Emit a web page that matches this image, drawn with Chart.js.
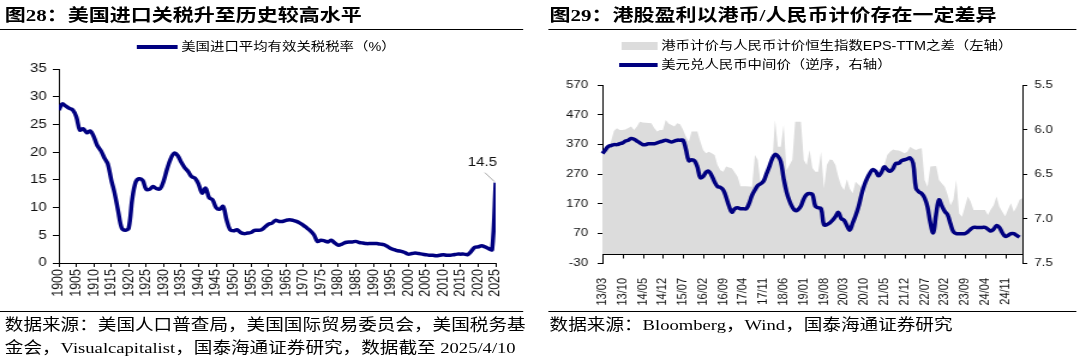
<!DOCTYPE html>
<html>
<head>
<meta charset="utf-8">
<script src="https://cdn.jsdelivr.net/npm/chart.js@4.4.0/dist/chart.umd.min.js"></script>
<style>
html, body { margin: 0; padding: 0; background: #fff; overflow: hidden; }
#page { position: absolute; left: 0; top: 0; width: 900px; height: 362px; transform: scaleX(1.2); transform-origin: 0 0; color: #000; }
.title { position: absolute; top: 5px; font: bold 17.5px/20px "Liberation Serif", "Noto Sans CJK SC", serif; white-space: nowrap; }
.rule { position: absolute; height: 0; border-top: 1.5px solid #000; }
.src { position: absolute; top: 313px; font: 15.5px/23px "Liberation Serif", "Noto Sans CJK SC", serif; white-space: nowrap; }
.leg { position: absolute; height: 14px; font: 12px/14px "Liberation Sans", "Noto Sans CJK SC", sans-serif; white-space: nowrap; display: flex; align-items: center; }
.leg i { display: inline-block; margin-right: 3px; }
.box { position: absolute; }
</style>
</head>
<body>
<div id="page">
  <div class="title" style="left:4px">图28：美国进口关税升至历史较高水平</div>
  <div class="rule" style="left:0;width:436px;top:29px"></div>
  <div class="leg" style="left:114px;top:40px"><i style="width:34px;height:4px;background:#000080"></i>美国进口平均有效关税税率（%）</div>
  <div class="box" style="left:0;top:55px;width:440px;height:255px"><canvas id="chart28"></canvas></div>
  <div class="rule" style="left:0;width:436px;top:311px"></div>
  <div class="src" style="left:4px">数据来源：美国人口普查局，美国国际贸易委员会，美国税务基<br>金会，Visualcapitalist，国泰海通证券研究，数据截至 2025/4/10</div>

  <div class="title" style="left:458px">图29：港股盈利以港币/人民币计价存在一定差异</div>
  <div class="rule" style="left:457px;width:440px;top:29px"></div>
  <div class="leg" style="left:518px;top:39px"><i style="width:30px;height:8px;background:#dcdcdc"></i>港币计价与人民币计价恒生指数EPS-TTM之差（左轴）</div>
  <div class="leg" style="left:516px;top:58px"><i style="width:32px;height:4px;background:#000080"></i>美元兑人民币中间价（逆序，右轴）</div>
  <div class="box" style="left:457px;top:70px;width:443px;height:240px"><canvas id="chart29"></canvas></div>
  <div class="rule" style="left:457px;width:440px;top:311px"></div>
  <div class="src" style="left:458px">数据来源：Bloomberg，Wind，国泰海通证券研究</div>
</div>

<script>
// ---- 图28 数据：美国进口平均有效关税税率（%），1900-2025
const tariffRate = [
  27.6, 28.7, 28.3, 27.9, 27.6, 26.4, 24.0, 24.2, 23.5, 23.8,
  22.8, 21.2, 20.3, 19.0, 17.9, 15.0, 12.5, 9.3, 6.3, 5.9,
  6.3, 11.5, 14.6, 15.2, 14.9, 13.3, 13.3, 13.8, 13.4, 13.4,
  14.8, 17.0, 18.8, 19.8, 19.4, 18.2, 17.2, 16.5, 15.6, 15.3,
  14.2, 12.6, 13.5, 11.8, 11.4, 10.0, 9.7, 10.2, 7.8, 6.0,
  5.8, 6.0, 5.5, 5.3, 5.4, 5.5, 5.9, 5.9, 6.0, 6.5,
  7.0, 7.2, 7.7, 7.5, 7.5, 7.7, 7.8, 7.7, 7.5, 7.2,
  6.8, 6.3, 5.8, 5.1, 3.9, 4.1, 4.0, 3.8, 4.1, 3.6,
  3.2, 3.4, 3.7, 3.8, 3.8, 3.9, 3.7, 3.6, 3.5, 3.5,
  3.5, 3.5, 3.4, 3.3, 3.0, 2.6, 2.4, 2.2, 2.1, 1.9,
  1.6, 1.7, 1.8, 1.7, 1.6, 1.5, 1.4, 1.4, 1.3, 1.4,
  1.5, 1.4, 1.4, 1.5, 1.6, 1.6, 1.6, 1.5, 2.1, 2.8,
  2.9, 3.1, 2.9, 2.6, 2.4, 14.5
];
const firstYear = 1900;
const years = [];
for (let i = 0; i < tariffRate.length; i++) years.push(firstYear + i);
const lastNote = '14.5';

// ---- 图29 数据：月度，2013/03 起
const epsGap = [
  345, 355, 362, 380, 415, 424, 418, 418, 420, 425,
  430, 418, 430, 446, 444, 443, 442, 441, 425, 413,
  418, 418, 452, 440, 435, 430, 441, 438, 420, 396,
  379, 413, 413, 413, 380, 351, 340, 345, 340, 334,
  300, 283, 278, 295, 292, 289, 275, 261, 229, 229,
  229, 228, 227, 334, 317, 238, 260, 272, 290, 300,
  452, 362, 362, 435, 283, 300, 317, 446, 446, 446,
  317, 300, 351, 290, 278, 278, 345, 222, 300, 319,
  317, 300, 261, 230, 216, 252, 220, 205, 244, 235,
  227, 188, 250, 265, 272, 272, 272, 290, 300, 334,
  345, 353, 350, 349, 345, 340, 345, 362, 355, 351,
  355, 357, 250, 227, 295, 296, 297, 250, 238, 227,
  200, 165, 183, 250, 137, 126, 160, 194, 177, 149,
  149, 149, 149, 149, 132, 150, 165, 194, 160, 143,
  128, 150, 171, 143, 160, 183, 188
];
const usdCny = [
  6.27, 6.23, 6.19, 6.18, 6.17, 6.17, 6.16, 6.15, 6.13, 6.12,
  6.10, 6.11, 6.13, 6.15, 6.17, 6.17, 6.16, 6.16, 6.16, 6.15,
  6.14, 6.13, 6.12, 6.13, 6.14, 6.13, 6.12, 6.12, 6.12, 6.22,
  6.35, 6.34, 6.35, 6.42, 6.54, 6.53, 6.48, 6.47, 6.52, 6.59,
  6.64, 6.65, 6.68, 6.76, 6.86, 6.93, 6.89, 6.88, 6.89, 6.89,
  6.89, 6.83, 6.74, 6.68, 6.63, 6.61, 6.58, 6.50, 6.42, 6.33,
  6.28, 6.30, 6.36, 6.55, 6.70, 6.80, 6.87, 6.91, 6.90, 6.86,
  6.78, 6.73, 6.72, 6.73, 6.86, 6.88, 6.89, 7.07, 7.07, 7.05,
  7.02, 6.98, 6.93, 7.00, 7.02, 7.08, 7.13, 7.05, 6.97, 6.87,
  6.74, 6.63, 6.55, 6.49, 6.45, 6.47, 6.52, 6.48, 6.42, 6.45,
  6.47, 6.44, 6.38, 6.38, 6.35, 6.34, 6.33, 6.32, 6.38, 6.66,
  6.70, 6.72, 6.77, 6.87, 7.05, 7.16, 6.95, 6.79, 6.86, 6.92,
  6.96, 7.06, 7.15, 7.17, 7.17, 7.17, 7.17, 7.15, 7.12, 7.10,
  7.10, 7.10, 7.10, 7.10, 7.12, 7.14, 7.12, 7.08, 7.10, 7.16,
  7.20, 7.19, 7.17, 7.17, 7.19, 7.21, null
];
const months = [];
for (let i = 0; i < epsGap.length; i++) {
  const m = 2 + i; // 2013/03 = index 0
  const yy = 13 + Math.floor(m / 12);
  const mm = (m % 12) + 1;
  months.push(yy + '/' + (mm < 10 ? '0' + mm : mm));
}
const monthTickStep = 7;

const NAVY = '#000080';
const GRAY = '#dcdcdc';
const tickFont28 = { family: '"Liberation Sans", Arial, sans-serif', size: 12.5 };
const tickFont29 = { family: '"Liberation Sans", Arial, sans-serif', size: 11 };

// 14.5 标注
const noteLast = {
  id: 'noteLast',
  afterDatasetsDraw(chart) {
    const { ctx, scales } = chart;
    const px = scales.x.getPixelForValue(years[years.length - 1]);
    const py = scales.y.getPixelForValue(tariffRate[tariffRate.length - 1]);
    ctx.save();
    ctx.strokeStyle = '#aaaaaa';
    ctx.lineWidth = 1;
    ctx.beginPath();
    ctx.moveTo(px - 1, py - 1);
    ctx.lineTo(px - 9, py - 10);
    ctx.stroke();
    ctx.fillStyle = '#111';
    ctx.font = '12.5px "Liberation Sans", Arial, sans-serif';
    ctx.textAlign = 'center';
    ctx.textBaseline = 'bottom';
    ctx.fillText(lastNote, px - 11, py - 14);
    ctx.restore();
  }
};

new Chart(document.getElementById('chart28'), {
  type: 'line',
  data: {
    datasets: [{
      label: '美国进口平均有效关税税率（%）',
      data: tariffRate.map((v, i) => ({ x: years[i], y: v })),
      borderColor: NAVY,
      borderWidth: 3.5,
      pointRadius: 0,
      tension: 0.35,
      fill: false
    }]
  },
  options: {
    animation: false,
    responsive: true,
    maintainAspectRatio: false,
    layout: { padding: { left: 9, right: 27, top: 14, bottom: 2 } },
    plugins: { legend: { display: false }, tooltip: { enabled: false } },
    scales: {
      x: {
        type: 'linear',
        min: 1900,
        max: 2025,
        afterFit: (s) => { s.height = 45; },
        ticks: {
          stepSize: 5,
          autoSkip: false,
          minRotation: 90,
          maxRotation: 90,
          padding: 2,
          color: '#111',
          font: tickFont28,
          callback: (v) => String(v)
        },
        grid: { drawOnChartArea: false, tickLength: 4, color: '#000' },
        border: { color: '#000', width: 1 }
      },
      y: {
        min: 0,
        max: 35,
        afterFit: (s) => { s.width = 40; },
        ticks: { stepSize: 5, padding: 5, color: '#111', font: tickFont28 },
        grid: { drawOnChartArea: false, tickLength: 5, color: '#000' },
        border: { color: '#000', width: 1 }
      }
    }
  },
  plugins: [noteLast]
});

// 0 轴线与刻度
const zeroAxis = {
  id: 'zeroAxis',
  afterDatasetsDraw(chart) {
    const { ctx, chartArea, scales } = chart;
    const y0 = Math.round(scales.yL.getPixelForValue(0)) + 0.5;
    ctx.save();
    ctx.strokeStyle = '#000';
    ctx.lineWidth = 1;
    ctx.beginPath();
    ctx.moveTo(chartArea.left, y0);
    ctx.lineTo(chartArea.right, y0);
    scales.x.ticks.forEach((t) => {
      const px = Math.round(scales.x.getPixelForValue(t.value)) + 0.5;
      ctx.moveTo(px, y0);
      ctx.lineTo(px, y0 + 4);
    });
    ctx.stroke();
    ctx.restore();
  }
};

new Chart(document.getElementById('chart29'), {
  type: 'line',
  data: {
    labels: months,
    datasets: [
      {
        label: '美元兑人民币中间价（逆序，右轴）',
        data: usdCny,
        yAxisID: 'yR',
        borderColor: NAVY,
        borderWidth: 3.5,
        pointRadius: 0,
        tension: 0.4,
        fill: false,
        order: 0
      },
      {
        label: '港币计价与人民币计价恒生指数EPS-TTM之差（左轴）',
        data: epsGap,
        yAxisID: 'yL',
        borderWidth: 0,
        borderColor: GRAY,
        backgroundColor: GRAY,
        pointRadius: 0,
        tension: 0,
        fill: 'origin',
        order: 1
      }
    ]
  },
  options: {
    animation: false,
    responsive: true,
    maintainAspectRatio: false,
    layout: { padding: { left: 5, right: 13, top: 15, bottom: 2 } },
    plugins: { legend: { display: false }, tooltip: { enabled: false } },
    scales: {
      x: {
        afterFit: (s) => { s.height = 45; },
        afterBuildTicks: (s) => { s.ticks = s.ticks.filter((t) => t.value % monthTickStep === 0); },
        ticks: {
          autoSkip: false,
          minRotation: 90,
          maxRotation: 90,
          padding: 7,
          color: '#111',
          font: tickFont29
        },
        grid: { display: false },
        border: { display: false }
      },
      yL: {
        position: 'left',
        min: -30,
        max: 570,
        afterFit: (s) => { s.width = 40; },
        ticks: { stepSize: 100, padding: 8, color: '#111', font: tickFont29 },
        grid: { drawOnChartArea: false, tickLength: 4, color: '#000' },
        border: { color: '#000', width: 1 }
      },
      yR: {
        position: 'right',
        reverse: true,
        min: 5.5,
        max: 7.5,
        afterFit: (s) => { s.width = 35; },
        ticks: { stepSize: 0.5, padding: 6, color: '#111', font: tickFont29, callback: (v) => v.toFixed(1) },
        grid: { drawOnChartArea: false, tickLength: 4, color: '#000' },
        border: { color: '#000', width: 1 }
      }
    }
  },
  plugins: [zeroAxis]
});
</script>
</body>
</html>
